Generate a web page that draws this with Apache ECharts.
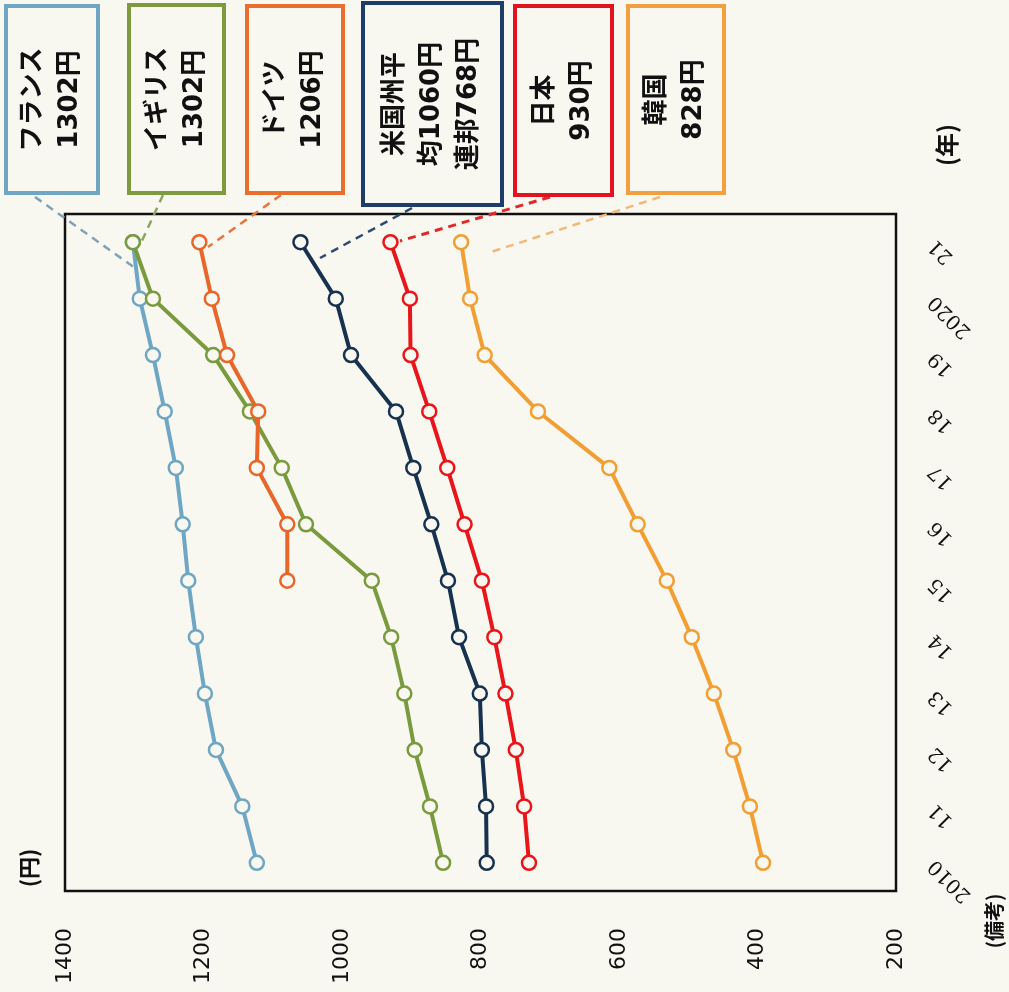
<!DOCTYPE html>
<html>
<head>
<meta charset="utf-8">
<script src="https://cdn.jsdelivr.net/npm/echarts@6/dist/echarts.min.js"></script>
<style>
  html, body { margin: 0; padding: 0; background: #f8f7f0; }
  #chart { width: 1009px; height: 992px; }
</style>
</head>
<body>
<div id="chart"></div>
<script>
// Minimum hourly wage by country (yen), 2010–2021
const years   = ['2010', '11', '12', '13', '14', '15', '16', '17', '18', '19', '2020', '21'];
const france  = [1123, 1144, 1182, 1198, 1211, 1222, 1230, 1240, 1256, 1273, 1292, 1302];
const uk      = [854, 873, 895, 910, 929, 957, 1052, 1087, 1133, 1186, 1273, 1302];
const germany = [null, null, null, null, null, 1079, 1079, 1123, 1121, 1166, 1188, 1206];
const usa     = [791, 792, 798, 801, 831, 847, 871, 897, 922, 987, 1009, 1060];
const japan   = [730, 737, 749, 764, 780, 798, 823, 848, 874, 901, 902, 930];
const korea   = [392, 411, 435, 463, 495, 531, 573, 614, 717, 794, 815, 828];
const usFederal = 768;
const valueTicks = { min: 200, max: 1400, step: 200 };

const BG = '#f8f7f0';
const last = a => a[a.length - 1];

const seriesDefs = [
  { name: 'フランス', data: france,  color: '#6ea6c3' },
  { name: 'イギリス', data: uk,      color: '#7a9a3e' },
  { name: 'ドイツ',   data: germany, color: '#e8662a' },
  { name: '米国',     data: usa,     color: '#17324f' },
  { name: '日本',     data: japan,   color: '#e8151b' },
  { name: '韓国',     data: korea,   color: '#f29e32' }
];

// Callout boxes with vertical (rotated) text, plus dashed leader lines
const boxes = [
  { x: 6,   y: 6, w: 92,  h: 187, color: '#6ea6c3', lines: ['フランス', last(france) + '円'], lead: [35, 197, 135, 268], leadColor: '#7fa3b6' },
  { x: 129, y: 5, w: 95,  h: 188, color: '#7d9b3d', lines: ['イギリス', last(uk) + '円'], lead: [163, 195, 140, 245], leadColor: '#8ea463' },
  { x: 247, y: 6, w: 96,  h: 187, color: '#e8702f', lines: ['ドイツ', last(germany) + '円'], lead: [281, 195, 208, 247], leadColor: '#e8763e' },
  { x: 363, y: 3, w: 139, h: 202, color: '#1e3d6b', lines: ['米国州平', '均' + last(usa) + '円', '連邦' + usFederal + '円'], lead: [412, 208, 320, 258], leadColor: '#2d4b70' },
  { x: 515, y: 6, w: 97,  h: 189, color: '#e0141e', lines: ['日本', last(japan) + '円'], lead: [550, 197, 400, 241], leadColor: '#e02a2a', leadWidth: 3 },
  { x: 628, y: 6, w: 96,  h: 187, color: '#f0a040', lines: ['韓国', last(korea) + '円'], lead: [660, 197, 488, 253], leadColor: '#f3b777' }
];

const graphics = [];
boxes.forEach(b => {
  graphics.push({
    type: 'line', z: 5,
    shape: { x1: b.lead[0], y1: b.lead[1], x2: b.lead[2], y2: b.lead[3] },
    style: { stroke: b.leadColor, lineWidth: b.leadWidth || 2.5, lineDash: [8, 6] }
  });
  graphics.push({
    type: 'rect', z: 6,
    shape: { x: b.x, y: b.y, width: b.w, height: b.h },
    style: { fill: BG, stroke: b.color, lineWidth: 4 }
  });
  graphics.push({
    type: 'text', z: 7,
    x: b.x + b.w / 2, y: b.y + b.h / 2,
    rotation: Math.PI / 2,
    style: {
      text: b.lines.join('\n'),
      fill: '#111',
      font: 'bold 26px "DejaVu Sans", "Noto Sans CJK JP", sans-serif',
      lineHeight: 37,
      align: 'center',
      verticalAlign: 'middle'
    }
  });
});

// Axis unit captions
[
  { text: '(円)', x: 29, y: 868, size: 22 },
  { text: '(年)', x: 947, y: 145, size: 24 },
  { text: '(備考)', x: 994, y: 921, size: 20 }
].forEach(t => {
  graphics.push({
    type: 'text', z: 7, x: t.x, y: t.y, rotation: Math.PI / 2,
    style: {
      text: t.text, fill: '#111',
      font: 'bold ' + t.size + 'px "Noto Sans CJK JP", sans-serif',
      align: 'center', verticalAlign: 'middle'
    }
  });
});

const chart = echarts.init(document.getElementById('chart'), null, { renderer: 'canvas' });

chart.setOption({
  backgroundColor: BG,
  animation: false,
  grid: {
    left: 65, top: 214, right: 113, bottom: 101,
    show: true, borderColor: '#111', borderWidth: 2.5, backgroundColor: 'transparent'
  },
  xAxis: {
    type: 'value',
    min: valueTicks.min, max: valueTicks.max, interval: valueTicks.step,
    inverse: true,
    position: 'bottom',
    axisLine: { show: false },
    axisTick: { show: false },
    splitLine: { show: false },
    axisLabel: {
      rotate: 90, margin: 37, color: '#111',
      formatter: v => String(v),
      fontFamily: '"DejaVu Sans", sans-serif', fontSize: 22
    }
  },
  yAxis: {
    type: 'category',
    data: years,
    position: 'right',
    boundaryGap: true,
    axisLine: { show: false },
    axisTick: { show: false },
    splitLine: { show: false },
    axisLabel: {
      rotate: 135, margin: 36, color: '#111',
      fontFamily: '"DejaVu Serif", serif', fontSize: 20
    }
  },
  series: seriesDefs.map(s => ({
    name: s.name,
    type: 'line',
    data: s.data,
    connectNulls: false,
    symbol: 'circle',
    symbolSize: 14,
    lineStyle: { color: s.color, width: 4 },
    itemStyle: { color: BG, borderColor: s.color, borderWidth: 2.5 },
    emphasis: { disabled: true }
  })),
  graphic: graphics
});
</script>
</body>
</html>
